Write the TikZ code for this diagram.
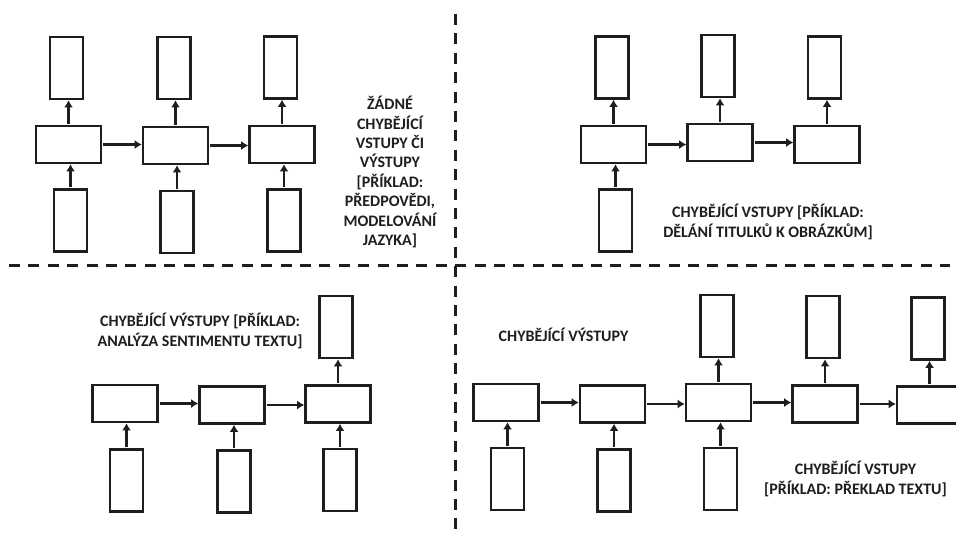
\documentclass[tikz,border=0pt]{standalone}
\usepackage{fontspec}
\setmainfont{Carlito}
\usetikzlibrary{arrows.meta}
\definecolor{ink}{HTML}{1E1E1E}
\tikzset{
  unit/.style={draw=ink, line width=1.25pt, inner sep=0pt},
  hid/.style={unit, minimum width=32.5pt, minimum height=18.5pt},
  vec/.style={unit, minimum width=16.5pt, minimum height=31pt},
  flow/.style={draw=ink, line width=1.25pt, -{Latex[length=3.6pt,width=4.6pt]}, shorten <=0.6pt},
  divider/.style={draw=ink, line width=1.5pt, dash pattern=on 5.5pt off 4.2pt},
  caption/.style={text=ink, font=\bfseries\fontsize{8}{9.7}\selectfont, align=center, inner sep=0pt}
}
\begin{document}
\begin{tikzpicture}[x=0.5pt, y=-0.5pt]
\clip (0,0) rectangle (956,542);
\fill[white] (0,0) rectangle (956,542);

% quadrant dividers
\coordinate (dvt) at (455,14);
\coordinate (dvb) at (455,535);
\coordinate (dhl) at (9,265);
\coordinate (dhr) at (950,265);
\draw[divider] (dvt) -- (dvb);
\draw[divider] (dhl) -- (dhr);

% ---- many-to-many, aligned
\node[vec] (o1) at (66.5,68) {};
\node[vec] (o2) at (174,68) {};
\node[vec] (o3) at (280.5,67.5) {};
\node[hid] (h1) at (68.5,144.5) {};
\node[hid] (h2) at (175.5,145.5) {};
\node[hid] (h3) at (282,144.5) {};
\node[vec] (i1) at (70.5,220.5) {};
\node[vec] (i2) at (177,222) {};
\node[vec] (i3) at (284,220.5) {};
\foreach \k in {1,2,3} {
  \draw[flow] (h\k.north) -- (h\k.north |- o\k.south);
  \draw[flow] (i\k.north) -- (i\k.north |- h\k.south);
}
\draw[flow] (h1.east) -- (h1.east -| h2.west);
\draw[flow] (h2.east) -- (h2.east -| h3.west);
\node[caption] (t1) at (390,172) {ŽÁDNÉ\\CHYBĚJÍCÍ\\VSTUPY ČI\\VÝSTUPY\\{[}PŘÍKLAD:\\PŘEDPOVĚDI,\\MODELOVÁNÍ\\JAZYKA]};

% ---- one-to-many
\node[vec] (o4) at (612,67.5) {};
\node[vec] (o5) at (718,66) {};
\node[vec] (o6) at (824.5,67.5) {};
\node[hid] (h4) at (613.5,144.5) {};
\node[hid] (h5) at (720,142.5) {};
\node[hid] (h6) at (827,144.5) {};
\node[vec] (i4) at (615.5,220.5) {};
\foreach \k in {4,5,6} {
  \draw[flow] (h\k.north) -- (h\k.north |- o\k.south);
}
\draw[flow] (i4.north) -- (i4.north |- h4.south);
\draw[flow] (h4.east) -- (h4.east -| h5.west);
\draw[flow] (h5.east) -- (h5.east -| h6.west);
\node[caption] (t2) at (768,222) {CHYBĚJÍCÍ VSTUPY {[}PŘÍKLAD:\\DĚLÁNÍ TITULKŮ K OBRÁZKŮM]};

% ---- many-to-one
\node[vec] (o7) at (336,327) {};
\node[hid] (h7) at (125,403.5) {};
\node[hid] (h8) at (232,405) {};
\node[hid] (h9) at (338,404) {};
\node[vec] (i7) at (126.5,480.5) {};
\node[vec] (i8) at (234,481.5) {};
\node[vec] (i9) at (340,480) {};
\foreach \k in {7,8,9} {
  \draw[flow] (i\k.north) -- (i\k.north |- h\k.south);
}
\draw[flow] (h9.north) -- (h9.north |- o7.south);
\draw[flow] (h7.east) -- (h7.east -| h8.west);
\draw[flow] (h8.east) -- (h8.east -| h9.west);
\node[caption] (t3) at (200,331) {CHYBĚJÍCÍ VÝSTUPY {[}PŘÍKLAD:\\ANALÝZA SENTIMENTU TEXTU]};

% ---- many-to-many, delayed
\node[hid] (h10) at (506,402.5) {};
\node[hid] (h11) at (612.5,404) {};
\node[hid] (h12) at (718.5,402.5) {};
\node[hid] (h13) at (825,404) {};
\node[hid] (h14) at (929.5,405) {};
\node[vec] (o10) at (717,326) {};
\node[vec] (o11) at (823,327) {};
\node[vec] (o12) at (928,328.5) {};
\node[vec] (i10) at (507.5,479) {};
\node[vec] (i11) at (614,480.5) {};
\node[vec] (i12) at (720.5,479) {};
\draw[flow] (i10.north) -- (i10.north |- h10.south);
\draw[flow] (i11.north) -- (i11.north |- h11.south);
\draw[flow] (i12.north) -- (i12.north |- h12.south);
\draw[flow] (h12.north) -- (h12.north |- o10.south);
\draw[flow] (h13.north) -- (h13.north |- o11.south);
\draw[flow] (h14.north) -- (h14.north |- o12.south);
\draw[flow] (h10.east) -- (h10.east -| h11.west);
\draw[flow] (h11.east) -- (h11.east -| h12.west);
\draw[flow] (h12.east) -- (h12.east -| h13.west);
\draw[flow] (h13.east) -- (h13.east -| h14.west);
\node[caption] (t4) at (563.5,335) {CHYBĚJÍCÍ VÝSTUPY};
\node[caption] (t5) at (855.5,479) {CHYBĚJÍCÍ VSTUPY\\{[}PŘÍKLAD: PŘEKLAD TEXTU]};
\end{tikzpicture}
\end{document}
